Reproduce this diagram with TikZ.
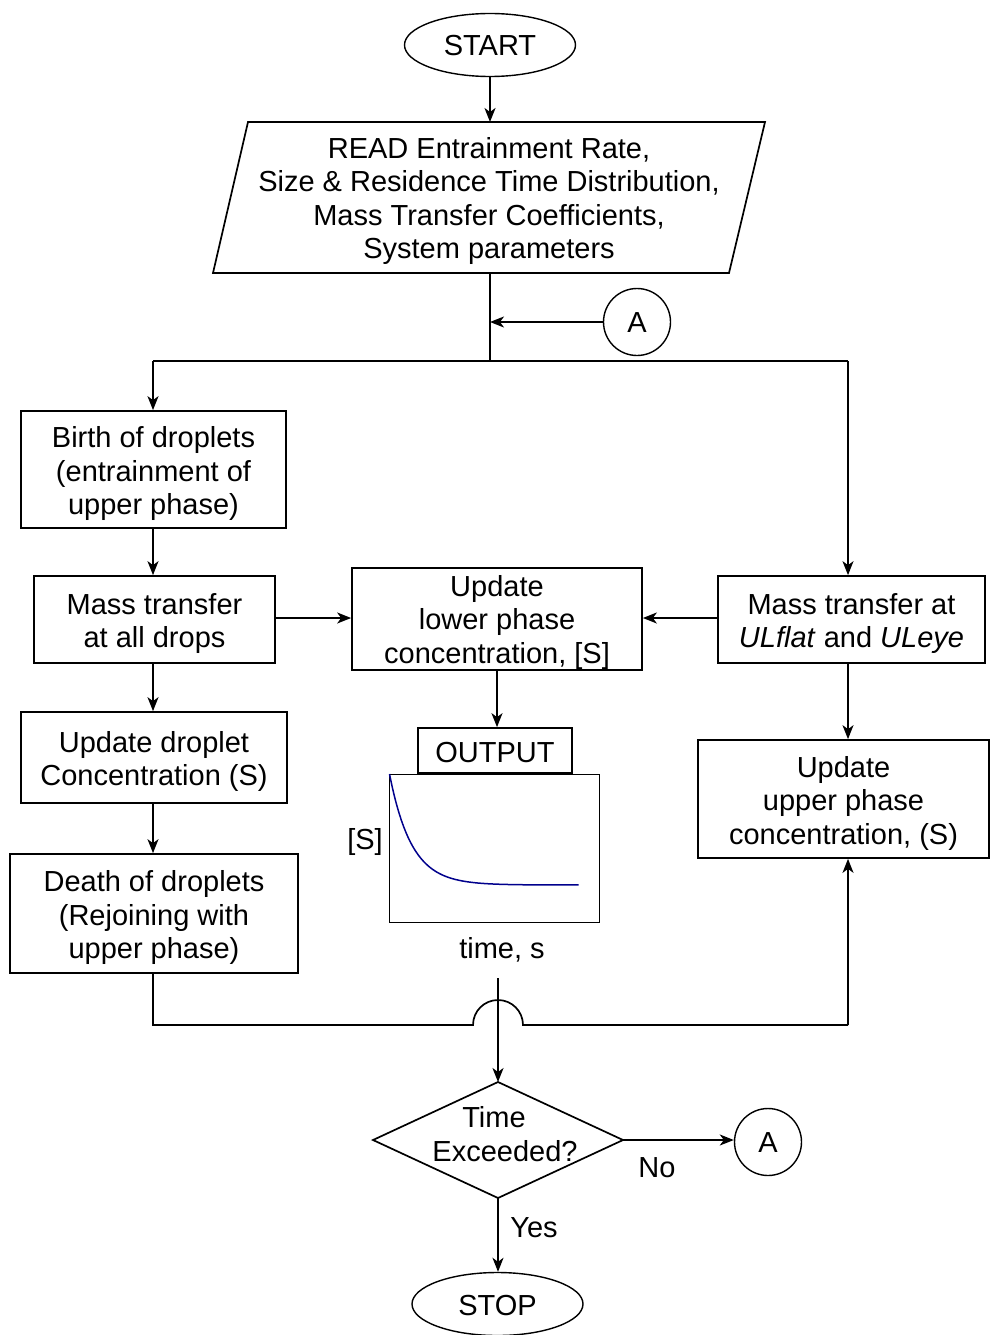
\documentclass[tikz,border=0pt]{standalone}
\usepackage{fontspec}
\setmainfont{Liberation Sans}[Ligatures=CommonOff]
\usetikzlibrary{arrows.meta,shapes.geometric}
\definecolor{curveblue}{RGB}{0,0,140}
\begin{document}
\begin{tikzpicture}[x=1pt,y=-1pt,
  every node/.style={font=\fontsize{29}{33.5}\selectfont, inner sep=0pt, align=center},
  box/.style={draw, line width=1.7pt},
  btext/.style={yshift=-4pt},
  line/.style={line width=1.7pt},
  arr/.style={line width=1.7pt, -{Stealth[length=14pt,width=11pt,inset=4pt]}},
  term/.style={draw, ellipse, line width=1.4pt, minimum width=171pt, minimum height=63pt},
  conn/.style={draw, circle, line width=1.4pt, minimum size=67pt},
]
\useasboundingbox (0,0) rectangle (990,1335);

% start
\node[term] (start) at (490,45) {};
\node (startT) at (490,46) {START};

% read parallelogram
\draw[line] (248,122) -- (765,122) -- (729,273) -- (213,273) -- cycle;
\node (read) at (489,201) {READ Entrainment Rate,\\Size \& Residence Time Distribution,\\Mass Transfer Coefficients,\\System parameters};
\coordinate (readT) at (490,122);
\coordinate (readB) at (490,273);
\draw[arr] (start.south) -- (readT);

% connector A (top)
\node[conn] (A1) at (637,322) {};
\node (A1T) at (637,323) {A};
\coordinate (junc) at (490,361);
\coordinate (lc) at (153,361);
\coordinate (rc) at (848,361);
\draw[line] (readB) -- (junc);
\draw[arr] (A1.west) -- (A1.west -| junc);
\draw[line] (lc) -- (rc);

% left column
\node[box, minimum width=265pt, minimum height=117pt] (birth) at (153.5,469.5) {};
\node[btext] (birthT) at (birth) {Birth of droplets\\(entrainment of\\upper phase)};
\node[box, minimum width=241pt, minimum height=87pt] (massL) at (154.5,619.5) {};
\node[btext] (massLT) at (massL) {Mass transfer\\at all drops};
\node[box, minimum width=266pt, minimum height=91pt] (updD) at (154,757.5) {};
\node[btext] (updDT) at (updD) {Update droplet\\Concentration (S)};
\node[box, minimum width=288pt, minimum height=119pt] (death) at (154,913.5) {};
\node[btext] (deathT) at (death) {Death of droplets\\(Rejoining with\\upper phase)};

\draw[arr] (lc) -- (lc |- birth.north);
\draw[arr] (lc |- birth.south) -- (lc |- massL.north);
\draw[arr] (lc |- massL.south) -- (lc |- updD.north);
\draw[arr] (lc |- updD.south) -- (lc |- death.north);

% middle column
\node[box, minimum width=290pt, minimum height=102pt] (lower) at (497,619) {};
\node[yshift=-3pt] (lowerT) at (lower) {Update\\lower phase\\concentration, [S]};
\node[box, minimum width=154pt, minimum height=45pt] (output) at (495,750.5) {};
\node (outputT) at (495,752.5) {OUTPUT};
\node[draw, line width=0.9pt, minimum width=210pt, minimum height=148pt] (plot) at (494,848) {};
\draw[curveblue, line width=1.5pt, domain=0:189, samples=80, smooth] plot ({389.5+\x},{885-111*exp(-\x/22)});
\node (ylab) at (365,842) {[S]};
\node (xlab) at (502,950) {time, s};

\draw[arr] (massL.east |- 0,618) -- (lower.west |- 0,618);
\draw[arr] (lower.south -| 497,0) -- (output.north -| 497,0);

% right column
\node[box, minimum width=267pt, minimum height=87pt] (massR) at (851.5,619.5) {};
\node[btext] (massRT) at (massR) {Mass transfer at\\\textit{ULflat} and \textit{ULeye}};
\node[box, minimum width=291pt, minimum height=118pt] (upper) at (843.5,799) {};
\node[btext] (upperT) at (upper) {Update\\upper phase\\concentration, (S)};

\draw[arr] (rc) -- (rc |- massR.north);
\draw[arr] (massR.west |- 0,618) -- (lower.east |- 0,618);
\draw[arr] (rc |- massR.south) -- (rc |- upper.north);

% merge line with hop
\coordinate (hopL) at (473,1025);
\coordinate (hopR) at (523,1025);
\draw[line] (lc |- death.south) -- (lc |- hopL) -- (hopL)
  .. controls (473,1011.2) and (484.2,1000) .. (498,1000)
  .. controls (511.8,1000) and (523,1011.2) .. (hopR)
  -- (rc |- hopR);
\draw[arr] (rc |- hopR) -- (rc |- upper.south);

% decision
\coordinate (vt) at (498,978);
\coordinate (dT) at (498,1082);
\coordinate (dB) at (498,1198);
\coordinate (dL) at (373,1140);
\coordinate (dR) at (623,1140);
\draw[line] (dT) -- (dR) -- (dB) -- (dL) -- cycle;
\node (dec) at (505,1134) {Time\hspace*{22pt}\\Exceeded?};
\draw[arr] (vt) -- (dT);

\node[conn] (A2) at (768,1142) {};
\node (A2T) at (768,1143) {A};
\draw[arr] (dR) -- (dR -| A2.west);
\node (no) at (657,1168) {No};

\node[term] (stop) at (497.5,1304) {};
\node (stopT) at (497.5,1305) {STOP};
\draw[arr] (dB) -- (dB |- stop.north);
\node (yes) at (534,1228) {Yes};
\end{tikzpicture}
\end{document}
